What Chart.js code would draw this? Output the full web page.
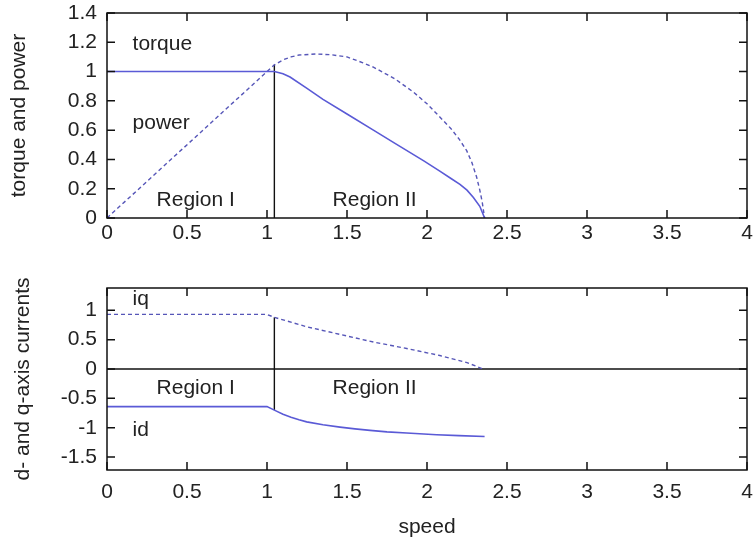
<!DOCTYPE html>
<html>
<head>
<meta charset="utf-8">
<script src="https://cdn.jsdelivr.net/npm/chart.js@4.4.1/dist/chart.umd.min.js"></script>
<style>
  body { margin: 0; background: #fff; }
  canvas { position: absolute; left: 0; }
  #top { top: 0; }
  #bottom { top: 250px; }
</style>
</head>
<body>
<canvas id="top" width="756" height="250"></canvas>
<canvas id="bottom" width="756" height="295"></canvas>
<script>
// valores
const speedTicks = [0, 0.5, 1, 1.5, 2, 2.5, 3, 3.5, 4];
const powerTicks = [0, 0.2, 0.4, 0.6, 0.8, 1, 1.2, 1.4];
const currentTicks = [-1.5, -1, -0.5, 0, 0.5, 1];

const torqueX = [0, 1.046, 1.1, 1.144, 1.25, 1.35, 1.5, 1.665, 1.8, 1.98, 2.08, 2.15, 2.206, 2.25, 2.29, 2.33, 2.36];
const torqueY = [1, 1, 0.985, 0.963, 0.885, 0.81, 0.71, 0.60, 0.51, 0.39, 0.32, 0.27, 0.23, 0.19, 0.14, 0.08, 0];

const powerX = [0, 1.046, 1.1, 1.15, 1.2, 1.31, 1.4, 1.5, 1.6, 1.665, 1.8, 1.915, 2.0, 2.08, 2.15, 2.2, 2.248, 2.28, 2.31, 2.33, 2.345, 2.36];
const powerY = [0, 1.046, 1.08, 1.10, 1.113, 1.12, 1.115, 1.10, 1.06, 1.03, 0.95, 0.86, 0.78, 0.69, 0.61, 0.54, 0.46, 0.38, 0.28, 0.19, 0.11, 0];

const iqX = [0, 1.0, 1.046, 1.248, 1.456, 1.665, 1.873, 2.08, 2.25, 2.35];
const iqY = [0.93, 0.93, 0.88, 0.72, 0.59, 0.46, 0.35, 0.23, 0.11, 0];

const idX = [0, 1.0, 1.046, 1.1, 1.15, 1.2, 1.248, 1.35, 1.456, 1.55, 1.644, 1.75, 1.873, 2.06, 2.2, 2.36];
const idY = [-0.64, -0.64, -0.70, -0.77, -0.82, -0.865, -0.90, -0.95, -0.99, -1.02, -1.045, -1.07, -1.09, -1.12, -1.135, -1.15];

const baseSpeed = 1.046;

const blue = '#5a5ad6';
const blueDash = '#5656b8';
const font = { family: 'Liberation Sans, Arial, sans-serif', size: 21 };

function pts(xs, ys) {
    return xs.map((x, i) => ({ x: x, y: ys[i] }));
}

// moldura e marcas de escala para dentro, estilo gnuplot
const frame = {
    id: 'frame',
    afterDatasetsDraw(chart, args, opts) {
        const { ctx, chartArea: a, scales: { x, y } } = chart;
        ctx.save();
        ctx.strokeStyle = '#111';
        ctx.lineWidth = 1.5;
        ctx.strokeRect(a.left, a.top, a.width, a.height);
        ctx.beginPath();
        x.ticks.forEach(t => {
            const px = x.getPixelForValue(t.value);
            ctx.moveTo(px, a.bottom); ctx.lineTo(px, a.bottom - 8);
            ctx.moveTo(px, a.top); ctx.lineTo(px, a.top + 8);
        });
        y.ticks.forEach(t => {
            const py = y.getPixelForValue(t.value);
            ctx.moveTo(a.left, py); ctx.lineTo(a.left + 8, py);
            ctx.moveTo(a.right, py); ctx.lineTo(a.right - 8, py);
        });
        ctx.stroke();
        ctx.fillStyle = '#222';
        ctx.font = font.size + 'px ' + font.family;
        ctx.textBaseline = 'middle';
        ctx.textAlign = 'left';
        opts.labels.forEach(l => {
            ctx.fillText(l.text, x.getPixelForValue(l.x), y.getPixelForValue(l.y));
        });
        ctx.restore();
    }
};

function options(yMin, yMax, yTicks, yTitle, yTitlePad, xHeight, xPad, xTitle, pad, labels) {
    return {
        responsive: false,
        animation: false,
        layout: { padding: pad },
        plugins: { legend: { display: false }, tooltip: { enabled: false }, frame: { labels: labels } },
        elements: { point: { radius: 0 }, line: { tension: 0 } },
        scales: {
            x: {
                type: 'linear', min: 0, max: 4,
                afterBuildTicks: s => { s.ticks = speedTicks.map(v => ({ value: v })); },
                afterFit: s => { s.height = xHeight; s.paddingLeft = 0; s.paddingRight = 0; },
                grid: { display: false, drawTicks: false },
                border: { display: false },
                ticks: { font: font, color: '#222', padding: xPad, autoSkip: false, maxRotation: 0, callback: v => String(v) },
                title: { display: !!xTitle, text: xTitle, font: font, color: '#222', padding: { top: 0, bottom: 5 } }
            },
            y: {
                type: 'linear', min: yMin, max: yMax,
                afterBuildTicks: s => { s.ticks = yTicks.map(v => ({ value: v })); },
                afterFit: s => { s.width = 107; s.paddingTop = 0; s.paddingBottom = 0; },
                grid: { display: false, drawTicks: false },
                border: { display: false },
                ticks: { font: font, color: '#222', padding: 10, autoSkip: false, callback: v => String(v) },
                title: { display: true, text: yTitle, font: font, color: '#222', padding: { top: yTitlePad, bottom: 0 } }
            }
        }
    };
}

new Chart(document.getElementById('top'), {
    type: 'line',
    data: {
        datasets: [
            { label: 'torque', data: pts(torqueX, torqueY), borderColor: blue, borderWidth: 1.6 },
            { label: 'power', data: pts(powerX, powerY), borderColor: blueDash, borderWidth: 1.4, borderDash: [4, 3] },
            { label: 'limit', data: pts([baseSpeed, baseSpeed], [0, powerY[1]]), borderColor: '#111', borderWidth: 1.4 }
        ]
    },
    options: options(0, 1.4, powerTicks, 'torque and power', 7, 32, 3, '',
        { top: 13, right: 9, left: 0, bottom: 0 },
        [
            { text: 'torque', x: 0.16, y: 1.19 },
            { text: 'power', x: 0.16, y: 0.65 },
            { text: 'Region I', x: 0.31, y: 0.12 },
            { text: 'Region II', x: 1.41, y: 0.12 }
        ]),
    plugins: [frame]
});

new Chart(document.getElementById('bottom'), {
    type: 'line',
    data: {
        datasets: [
            { label: 'iq', data: pts(iqX, iqY), borderColor: blueDash, borderWidth: 1.4, borderDash: [4, 3] },
            { label: 'id', data: pts(idX, idY), borderColor: blue, borderWidth: 1.6 },
            { label: 'zero', data: pts([0, 4], [0, 0]), borderColor: '#111', borderWidth: 1.4 },
            { label: 'limit', data: pts([baseSpeed, baseSpeed], [idY[2], iqY[2]]), borderColor: '#111', borderWidth: 1.4 }
        ]
    },
    options: options(-1.72, 1.38, currentTicks, 'd- and q-axis currents', 11, 75, 10, 'speed',
        { top: 38, right: 9, left: 0, bottom: 0 },
        [
            { text: 'iq', x: 0.16, y: 1.19 },
            { text: 'Region I', x: 0.31, y: -0.33 },
            { text: 'Region II', x: 1.41, y: -0.33 },
            { text: 'id', x: 0.16, y: -1.05 }
        ]),
    plugins: [frame]
});
</script>
</body>
</html>
